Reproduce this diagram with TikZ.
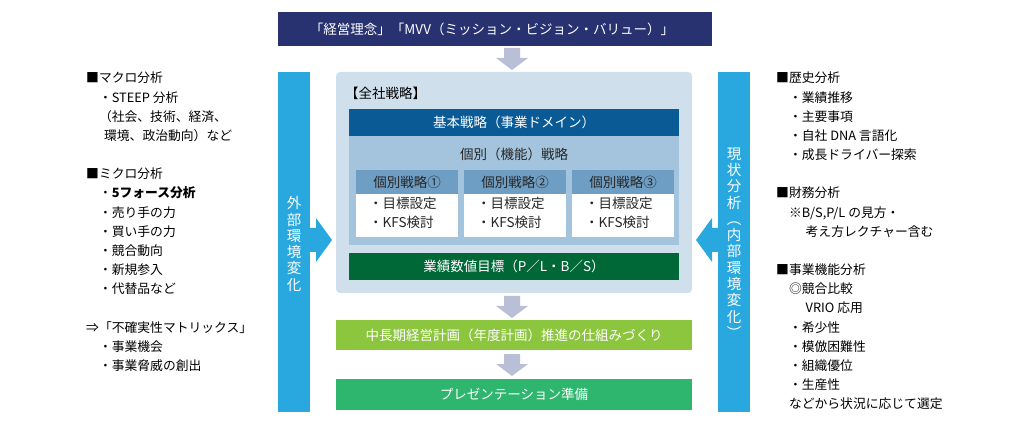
\documentclass[tikz,border=0pt]{standalone}
\usepackage{fontspec}
\setmainfont{Noto Sans CJK JP}
\definecolor{navy}{HTML}{283270}
\definecolor{sky}{HTML}{29A8E0}
\definecolor{pale}{HTML}{CFE0EC}
\definecolor{deep}{HTML}{0A5A96}
\definecolor{mid}{HTML}{A3C4DC}
\definecolor{hdr}{HTML}{6F9EC4}
\definecolor{dgreen}{HTML}{006837}
\definecolor{lgreen}{HTML}{8CC63F}
\definecolor{mgreen}{HTML}{2EB66E}
\definecolor{garrow}{HTML}{B8BFD6}
\begin{document}
\begin{tikzpicture}[x=1pt,y=-1pt,
  bar/.style={inner sep=0,outer sep=0,text=white,font=\fontsize{13.5}{15}\selectfont},
  txt/.style={font=\fontsize{12.8}{19.2}\selectfont,align=left,anchor=north west,inner sep=0},
  vtxt/.style={text=white,font=\fontsize{14.5}{16.3}\selectfont,align=center,inner sep=0}]
\useasboundingbox (0,0) rectangle (1030,427);
% top bar
\fill[navy] (278,12) rectangle (712,46);
\node[bar] (top) at (492,29) {「経営理念」「MVV（ミッション・ビジョン・バリュー）」};
% gray arrows
\newcommand\downarr[2]{\fill[garrow] (#1-8,#2) -- (#1+8,#2) -- (#1+8,#2+10) -- (#1+16,#2+10) -- (#1,#2+22) -- (#1-16,#2+10) -- (#1-8,#2+10) -- cycle;}
\downarr{512}{48}
\downarr{512}{296}
\downarr{512}{354}
% side bars
\fill[sky] (278,72) rectangle (310,412);
\fill[sky] (310,228) -- (316,228) -- (316,218) -- (332,240) -- (316,262) -- (316,252) -- (310,252) -- cycle;
\node[vtxt] (ext) at (294,244) {外\\部\\環\\境\\変\\化};
\fill[sky] (718,72) rectangle (750,412);
\fill[sky] (718,228) -- (712,228) -- (712,218) -- (696,240) -- (712,262) -- (712,252) -- (718,252) -- cycle;
\node[vtxt] (int) at (734,243) {現\\状\\分\\析\\︵\\内\\部\\環\\境\\変\\化\\︶};
% big box
\fill[pale,rounded corners=4] (336,72) rectangle (692,293);
\node[txt,font=\fontsize{13.5}{15}\selectfont] (zen) at (345,87) {【全社戦略】};
\fill[deep] (349,109) rectangle (679,136);
\node[bar] (kihon) at (514,122.5) {基本戦略（事業ドメイン）};
\fill[mid] (349,136) rectangle (679,245);
\node[bar,text=black!85] (kobetsu) at (514,154) {個別（機能）戦略};
\foreach \x/\n in {356/①,464/②,572/③}{
  \fill[hdr] (\x,170) rectangle (\x+102,194);
  \fill[white] (\x,194) rectangle (\x+102,237);
  \node[bar,text=black!85] at (\x+51,182) {個別戦略\n};
  \node[txt,font=\fontsize{13.5}{19}\selectfont,text=black!85] at (\x+13,197) {・目標設定\\・KFS検討};
}
\fill[dgreen] (349,253) rectangle (679,280);
\node[bar] (gyo) at (514,266.5) {業績数値目標（P／L・B／S）};
\fill[lgreen] (336,320) rectangle (692,350);
\node[bar] (chu) at (514,335) {中長期経営計画（年度計画）推進の仕組みづくり};
\fill[mgreen] (336,379) rectangle (692,410);
\node[bar] (pre) at (514,394.5) {プレゼンテーション準備};
% left column
\node[txt] (left) at (86,72) {■マクロ分析\\
\hspace{1em}・STEEP 分析\\
\hspace{1em}（社会、技術、経済、\\
\hspace{1.4em}環境、政治動向）など\\[19pt]
■ミクロ分析\\
\hspace{1em}・\textbf{5フォース分析}\\
\hspace{1em}・売り手の力\\
\hspace{1em}・買い手の力\\
\hspace{1em}・競合動向\\
\hspace{1em}・新規参入\\
\hspace{1em}・代替品など\\[19pt]
⇒「不確実性マトリックス」\\
\hspace{1em}・事業機会\\
\hspace{1em}・事業脅威の創出};
% right column
\node[txt] (right) at (776,72) {■歴史分析\\
\hspace{1em}・業績推移\\
\hspace{1em}・主要事項\\
\hspace{1em}・自社 DNA 言語化\\
\hspace{1em}・成長ドライバー探索\\[19pt]
■財務分析\\
\hspace{1em}※B/S,P/L の見方・\\
\hspace{2.3em}考え方レクチャー含む\\[19pt]
■事業機能分析\\
\hspace{1em}◎競合比較\\
\hspace{2.3em}VRIO 応用\\
\hspace{1em}・希少性\\
\hspace{1em}・模倣困難性\\
\hspace{1em}・組織優位\\
\hspace{1em}・生産性\\
\hspace{1em}などから状況に応じて選定};
\end{tikzpicture}
\end{document}
